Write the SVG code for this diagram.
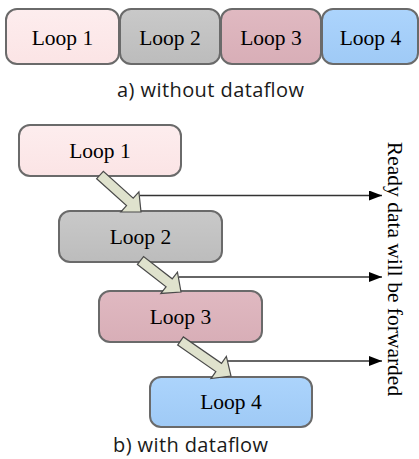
<svg xmlns="http://www.w3.org/2000/svg" width="419" height="459" viewBox="0 0 419 459">
  <defs>
    <linearGradient id="g1" x1="0" y1="0" x2="0" y2="1">
      <stop offset="0" stop-color="#fdedee"/>
      <stop offset="1" stop-color="#fbe4e5"/>
    </linearGradient>
    <linearGradient id="g2" x1="0" y1="0" x2="0" y2="1">
      <stop offset="0" stop-color="#c9c9c9"/>
      <stop offset="1" stop-color="#bcbcbc"/>
    </linearGradient>
    <linearGradient id="g3" x1="0" y1="0" x2="0" y2="1">
      <stop offset="0" stop-color="#e0b9c1"/>
      <stop offset="1" stop-color="#d8aeb7"/>
    </linearGradient>
    <linearGradient id="g4" x1="0" y1="0" x2="0" y2="1">
      <stop offset="0" stop-color="#acd4fc"/>
      <stop offset="1" stop-color="#9fcaf6"/>
    </linearGradient>
    <marker id="tri" viewBox="0 0 13 10" refX="13" refY="5" markerWidth="13" markerHeight="10" markerUnits="userSpaceOnUse" orient="auto">
      <path d="M0,0 L13,5 L0,10 Z" fill="#000"/>
    </marker>
  </defs>
  <style>
    .box { stroke: #6a6a6a; stroke-width: 2; }
    .lbl { font-family: "Liberation Serif", "Times New Roman", serif; font-size: 21.5px; fill: #000; text-anchor: middle; }
    .cap { font-family: "Open Sans", "Noto Sans", sans-serif; font-size: 20px; fill: #1a1a1a; text-anchor: middle; }
    .fwd { stroke: #333; stroke-width: 1.3; fill: none; }
    .big { fill: #dfe2cd; stroke: #4a4a4a; stroke-width: 1.2; stroke-linejoin: miter; }
  </style>

  <!-- a) sequential loops -->
  <g id="a-loop1"><rect class="box" x="6" y="9" width="113" height="55" rx="11" fill="url(#g1)"/><text class="lbl" x="62.5" y="44.5">Loop 1</text></g>
  <g id="a-loop2"><rect class="box" x="120" y="9" width="100" height="55" rx="11" fill="url(#g2)"/><text class="lbl" x="170" y="44.5">Loop 2</text></g>
  <g id="a-loop3"><rect class="box" x="221" y="9" width="100" height="55" rx="11" fill="url(#g3)"/><text class="lbl" x="271" y="44.5">Loop 3</text></g>
  <g id="a-loop4"><rect class="box" x="322" y="9" width="96" height="55" rx="11" fill="url(#g4)"/><text class="lbl" x="370.5" y="44.5">Loop 4</text></g>
  <text class="cap" x="210.5" y="97" textLength="187" lengthAdjust="spacing">a) without dataflow</text>

  <!-- b) overlapping loops with dataflow -->
  <g id="b-loop1"><rect class="box" x="19" y="125" width="162" height="51" rx="11" fill="url(#g1)"/><text class="lbl" x="100" y="158">Loop 1</text></g>
  <g id="b-loop2"><rect class="box" x="59" y="211" width="163" height="51" rx="11" fill="url(#g2)"/><text class="lbl" x="140.5" y="244">Loop 2</text></g>
  <g id="b-loop3"><rect class="box" x="99" y="291" width="163" height="51" rx="11" fill="url(#g3)"/><text class="lbl" x="180.5" y="324">Loop 3</text></g>
  <g id="b-loop4"><rect class="box" x="150" y="377" width="162" height="50" rx="11" fill="url(#g4)"/><text class="lbl" x="231" y="409">Loop 4</text></g>

  <g id="connectors">
    <line class="fwd" x1="140" y1="195.5" x2="382" y2="195.5" marker-end="url(#tri)"/>
    <line class="fwd" x1="179" y1="277" x2="382" y2="277" marker-end="url(#tri)"/>
    <line class="fwd" x1="228" y1="361" x2="382" y2="361" marker-end="url(#tri)"/>
    <polygon class="big" points="96.65,178.71 126.51,205.66 120.81,211.98 141,212 138.91,191.92 133.21,198.24 103.35,171.29"/>
    <polygon class="big" points="137.43,264.45 166.09,286.74 160.87,293.45 181,292 177.45,272.13 172.23,278.84 143.57,256.55"/>
    <polygon class="big" points="177.65,345.11 215.82,371.56 210.98,378.55 231,376 226.36,356.35 221.52,363.34 183.35,336.89"/>
  </g>

  <text class="lbl" transform="translate(387.5,269) rotate(90)" x="0" y="0">Ready data will be forwarded</text>
  <text class="cap" x="190.5" y="452" textLength="155" lengthAdjust="spacing">b) with dataflow</text>
</svg>
